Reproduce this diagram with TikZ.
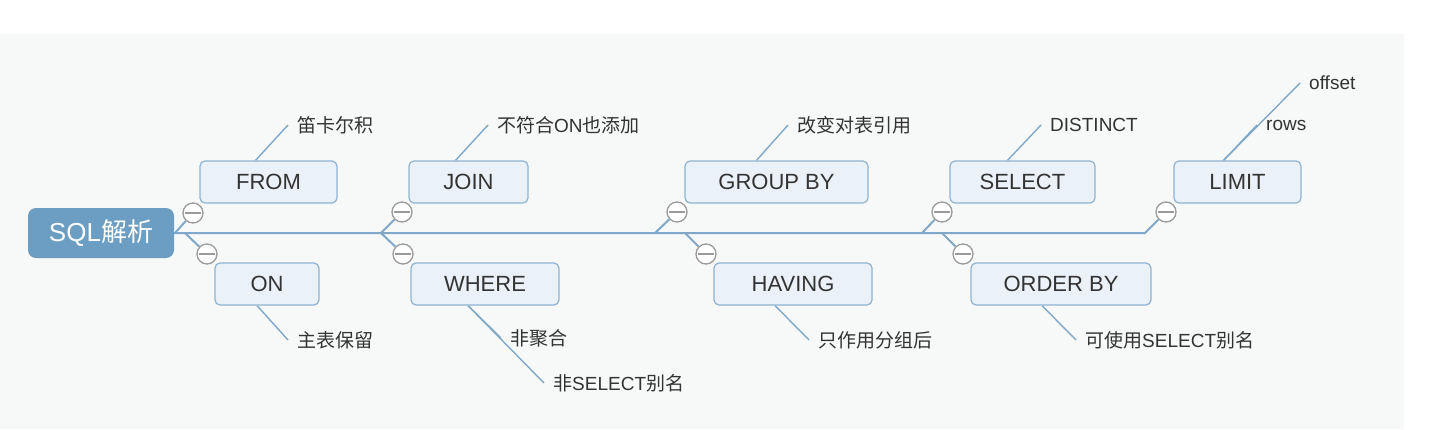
\documentclass[tikz,border=0pt]{standalone}
\usepackage{fontspec}
\setmainfont{Liberation Sans}
\newfontfamily\cjk{Noto Sans CJK SC}
\usepackage{tikz}
\usetikzlibrary{backgrounds}
\definecolor{rootblue}{HTML}{6C9EC3}
\definecolor{boxfill}{HTML}{EAF1F8}
\definecolor{boxline}{HTML}{8FB3D1}
\definecolor{linkblue}{HTML}{80A8C9}
\definecolor{bggrey}{HTML}{F7F8F8}
\definecolor{txtgrey}{HTML}{333333}
\definecolor{knobgrey}{HTML}{9A9A9A}
\newcommand{\zh}[1]{{\cjk #1}}

\begin{document}
\begin{tikzpicture}[x=1pt, y=-1pt,
  root/.style={fill=rootblue, rounded corners=8pt, text=white, minimum width=146pt, minimum height=50pt, inner sep=0pt, font=\fontsize{26}{30}\selectfont},
  keyword/.style={draw=boxline, fill=boxfill, line width=1.2pt, rounded corners=5pt, text=txtgrey, minimum height=42pt, inner sep=0pt, font=\fontsize{22}{26}\selectfont},
  note/.style={anchor=west, inner xsep=9pt, inner ysep=0pt, text=txtgrey, font=\fontsize{19}{22}\selectfont},
  knob/.style={circle, draw=knobgrey, fill=white, line width=1.3pt, minimum size=20pt, inner sep=0pt,
    path picture={\draw [knobgrey, line width=1.3pt] ([xshift=-8pt]path picture bounding box.center) -- ([xshift=8pt]path picture bounding box.center);}},
  spine/.style={draw=linkblue, line width=2pt},
  twig/.style={draw=linkblue, line width=1.4pt}]
\useasboundingbox (0,0) rectangle (1451,429);

\node [root] (sql) at (101,233) {SQL\zh{解析}};

\node [keyword, minimum width=137pt] (from) at (268.5,182) {FROM};
\node [keyword, minimum width=104pt] (on) at (267,284) {ON};
\node [keyword, minimum width=119pt] (join) at (468.5,182) {JOIN};
\node [keyword, minimum width=148pt] (where) at (485,284) {WHERE};
\node [keyword, minimum width=183pt] (groupby) at (776.5,182) {GROUP BY};
\node [keyword, minimum width=158pt] (having) at (793,284) {HAVING};
\node [keyword, minimum width=145pt] (select) at (1022.5,182) {SELECT};
\node [keyword, minimum width=180pt] (orderby) at (1061,284) {ORDER BY};
\node [keyword, minimum width=127pt] (limit) at (1237.5,182) {LIMIT};

\node [knob] (kfrom) at (193,213) {};
\node [knob] (kon) at (207,254) {};
\node [knob] (kjoin) at (402,212) {};
\node [knob] (kwhere) at (403,254) {};
\node [knob] (kgroupby) at (677,212) {};
\node [knob] (khaving) at (706,254) {};
\node [knob] (kselect) at (942,212) {};
\node [knob] (korderby) at (963,254) {};
\node [knob] (klimit) at (1166,212) {};

\node [note] (nfrom) at (288,125) {\zh{笛卡尔积}};
\node [note] (non) at (288,340) {\zh{主表保留}};
\node [note] (njoin) at (488,125) {\zh{不符合}ON\zh{也添加}};
\node [note] (nwhereA) at (501,338) {\zh{非聚合}};
\node [note] (nwhereB) at (544,383) {\zh{非}SELECT\zh{别名}};
\node [note] (ngroupby) at (788,125) {\zh{改变对表引用}};
\node [note] (nhaving) at (809,340) {\zh{只作用分组后}};
\node [note] (nselect) at (1041,125) {DISTINCT};
\node [note] (norderby) at (1076,340) {\zh{可使用}SELECT\zh{别名}};
\node [note] (nlimitA) at (1300,83) {offset};
\node [note] (nlimitB) at (1257,125) {rows};

\coordinate (sfrom) at (175,233);
\coordinate (son) at (185,233);
\coordinate (sjoin) at (381,233);
\coordinate (sgroupby) at (655,233);
\coordinate (shaving) at (685,233);
\coordinate (sselect) at (922,233);
\coordinate (sorderby) at (942,233);
\coordinate (slimit) at (1145,233);

\begin{scope}[on background layer]
\fill [white] (0,0) rectangle (1451,429);
\fill [bggrey] (0,34) rectangle (1404,429);
\draw [spine] (sql.east) -- (slimit) -- (klimit);
\draw [spine] (sfrom) -- (kfrom);
\draw [spine] (son) -- (kon);
\draw [spine] (sjoin) -- (kjoin);
\draw [spine] (sjoin) -- (kwhere);
\draw [spine] (sgroupby) -- (kgroupby);
\draw [spine] (shaving) -- (khaving);
\draw [spine] (sselect) -- (kselect);
\draw [spine] (sorderby) -- (korderby);
\draw [twig] ([xshift=-13pt]from.north) -- (nfrom.west);
\draw [twig] ([xshift=-10pt]on.south) -- (non.west);
\draw [twig] ([xshift=-13pt]join.north) -- (njoin.west);
\draw [twig] ([xshift=-17pt]where.south) -- (nwhereA.west);
\draw [twig] ([xshift=-17pt]where.south) -- (nwhereB.west);
\draw [twig] ([xshift=-20pt]groupby.north) -- (ngroupby.west);
\draw [twig] ([xshift=-18pt]having.south) -- (nhaving.west);
\draw [twig] ([xshift=-15pt]select.north) -- (nselect.west);
\draw [twig] ([xshift=-19pt]orderby.south) -- (norderby.west);
\draw [twig] ([xshift=-14pt]limit.north) -- (nlimitA.west);
\draw [twig] ([xshift=-14pt]limit.north) -- (nlimitB.west);
\end{scope}
\end{tikzpicture}
\end{document}
